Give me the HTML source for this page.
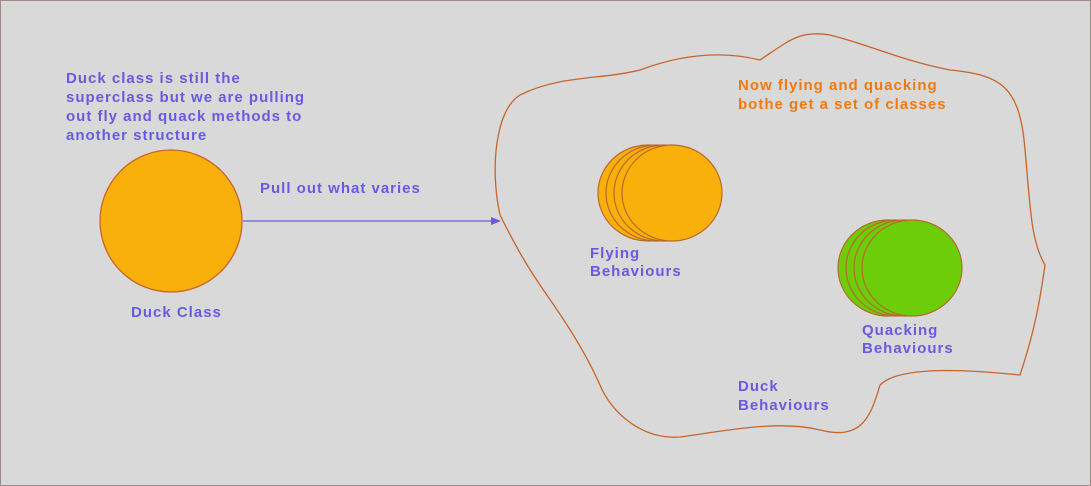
<!DOCTYPE html>
<html><head><style>
body{margin:0;background:#d9d9d9}
svg{display:block}
text{font-family:"Liberation Sans",sans-serif;font-weight:bold;font-size:15px;letter-spacing:1px}
</style></head><body>
<svg width="1091" height="486" viewBox="0 0 1091 486">
<rect x="0.5" y="0.5" width="1090" height="485" fill="#d9d9d9" stroke="#a08a8a"/>
<path d="M500,215 C490,170 495,110 520,95 C560,75 600,80 640,70 C680,55 720,50 760,60 C790,40 800,30 830,35 C870,45 900,60 950,70 C1000,75 1020,85 1025,150 C1030,200 1030,240 1045,265 C1040,300 1035,330 1020,375 C970,370 900,365 880,385 C870,420 860,440 820,430 C780,420 730,430 680,437 C640,440 610,410 600,385 C580,340 550,300 540,285 C530,270 520,255 500,215 Z" fill="none" stroke="#c8642a" stroke-width="1.3"/>
<circle cx="171" cy="221" r="71" fill="#f9b00a" stroke="#c8642a" stroke-width="1.3"/>
<line x1="243" y1="221" x2="493" y2="221" stroke="#6a5ae0" stroke-width="1.2"/>
<polygon points="501,221 491,217 491,225" fill="#6a5ae0"/>
<g fill="#f9b00a" stroke="#b8692a" stroke-width="1.2">
<ellipse cx="648" cy="193" rx="50" ry="48"/><ellipse cx="656" cy="193" rx="50" ry="48"/><ellipse cx="664" cy="193" rx="50" ry="48"/><ellipse cx="672" cy="193" rx="50" ry="48"/>
</g>
<g fill="#6ccd08" stroke="#b8692a" stroke-width="1.2">
<ellipse cx="888" cy="268" rx="50" ry="48"/><ellipse cx="896" cy="268" rx="50" ry="48"/><ellipse cx="904" cy="268" rx="50" ry="48"/><ellipse cx="912" cy="268" rx="50" ry="48"/>
</g>
<g fill="#6a5ae0">
<text x="66" y="83">Duck class is still the</text>
<text x="66" y="102">superclass but we are pulling</text>
<text x="66" y="121">out fly and quack methods to</text>
<text x="66" y="140">another structure</text>
<text x="260" y="193">Pull out what varies</text>
<text x="131" y="317">Duck Class</text>
<text x="590" y="258">Flying</text>
<text x="590" y="276">Behaviours</text>
<text x="862" y="335">Quacking</text>
<text x="862" y="353">Behaviours</text>
<text x="738" y="391">Duck</text>
<text x="738" y="410">Behaviours</text>
</g>
<g fill="#f07a10">
<text x="738" y="90">Now flying and quacking</text>
<text x="738" y="109">bothe get a set of classes</text>
</g>
</svg>
</body></html>
